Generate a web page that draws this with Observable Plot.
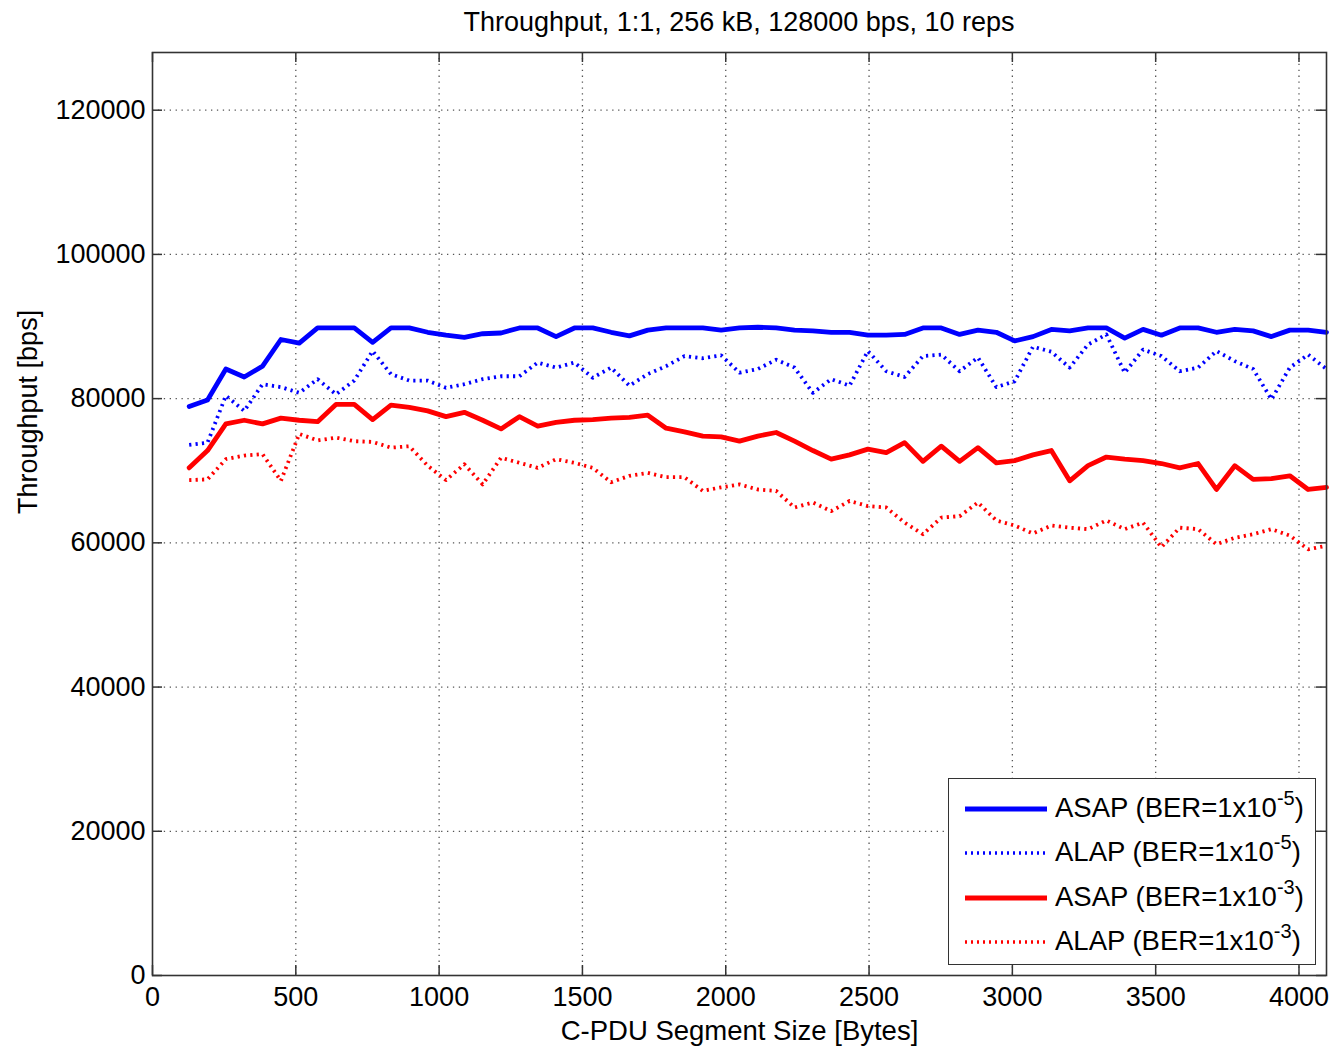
<!DOCTYPE html>
<html>
<head>
<meta charset="utf-8">
<script src="https://cdn.jsdelivr.net/npm/d3@7"></script>
<script src="https://cdn.jsdelivr.net/npm/@observablehq/plot@0.6"></script>
<style>
  html, body { margin: 0; padding: 0; background: #fff; }
  #wrap { position: relative; width: 1330px; height: 1048px; font-family: "Liberation Sans", Arial, sans-serif; }
  #title { height: 44px; line-height: 44px; padding-left: 152px; width: 1174px; text-align: center; font-size: 27px; color: #000; }
  #legend { position: absolute; left: 948px; top: 778px; width: 366px; height: 185px; border: 1.5px solid #333; background: #fff; }
  .row { position: absolute; left: 0; height: 44px; width: 366px; }
  .row svg { position: absolute; left: 16px; top: 0; }
  .row span { position: absolute; left: 106px; top: 6px; font-size: 27.5px; line-height: 30px; white-space: nowrap; color: #000; }
  .row sup { font-size: 20px; position: relative; top: -2px; vertical-align: super; line-height: 0; }
</style>
</head>
<body>
<div id="wrap">
  <div id="title">Throughput, 1:1, 256 kB, 128000 bps, 10 reps</div>
  <div id="chart"></div>
  <div id="legend"></div>
</div>
<script>
const sizes = [128,192,256,320,384,448,512,576,640,704,768,832,896,960,1024,1088,1152,1216,1280,1344,1408,1472,1536,1600,1664,1728,1792,1856,1920,1984,2048,2112,2176,2240,2304,2368,2432,2496,2560,2624,2688,2752,2816,2880,2944,3008,3072,3136,3200,3264,3328,3392,3456,3520,3584,3648,3712,3776,3840,3904,3968,4032,4096];

const asap5 = [78900,79800,84100,83000,84500,88200,87700,89800,89800,89800,87800,89800,89800,89200,88800,88500,89000,89100,89800,89800,88600,89800,89800,89200,88700,89500,89800,89800,89800,89500,89800,89900,89800,89500,89400,89200,89200,88800,88800,88900,89800,89800,88900,89500,89200,88000,88600,89600,89400,89800,89800,88400,89600,88800,89800,89800,89200,89600,89400,88600,89500,89500,89200];

const alap5 = [73600,73900,80400,78300,82000,81600,80800,82700,80600,82500,86600,83400,82500,82500,81500,82000,82700,83100,83100,85000,84300,85000,82900,84300,81800,83400,84500,85900,85600,86000,83600,84100,85400,84300,80800,82700,81800,86600,83800,83000,85900,86100,83800,85700,81600,82400,87200,86500,84300,87500,88900,83600,86800,85900,83800,84300,86600,85200,84100,79900,84300,86100,84100];

const asap3 = [70400,72800,76500,77000,76500,77300,77000,76800,79200,79200,77100,79100,78800,78300,77500,78100,77000,75800,77500,76200,76700,77000,77100,77300,77400,77700,75900,75400,74800,74700,74100,74800,75300,74100,72800,71600,72200,73000,72500,73900,71300,73400,71300,73200,71100,71400,72200,72800,68600,70700,71900,71600,71400,71000,70400,71000,67400,70700,68800,68900,69300,67400,67700];

const alap3 = [68700,68800,71600,72100,72300,68600,75100,74200,74600,74100,74000,73200,73400,70700,68700,70900,68100,71800,71100,70400,71600,71100,70400,68400,69300,69700,69100,69100,67200,67700,68100,67400,67200,64900,65600,64400,65800,65100,64900,62800,61200,63500,63700,65600,63100,62400,61300,62400,62100,61900,63100,61900,62800,59400,62100,61900,59800,60700,61200,61900,61000,59100,59600];

const xTicks = [0,500,1000,1500,2000,2500,3000,3500,4000];
const yTicks = [0,20000,40000,60000,80000,100000,120000];
const xGrid = [500,1000,1500,2000,2500,3000,3500,4000];
const yGrid = [20000,40000,60000,80000,100000,120000];

const seriesNames = ["ASAP (BER=1x10", "ALAP (BER=1x10", "ASAP (BER=1x10", "ALAP (BER=1x10"];
const seriesExp = ["-5", "-5", "-3", "-3"];
const seriesColors = ["#0000ff", "#0000ff", "#ff0000", "#ff0000"];
const seriesDotted = [false, true, false, true];
const seriesValues = [asap5, alap5, asap3, alap3];

const W = 1330, H = 1004, mT = 8, mB = 73, mL = 152, mR = 4;
const innerH = H - mT - mB, innerW = W - mL - mR;
const tickLen = 10;

const gridStyle = {stroke: "#555", strokeOpacity: 1, strokeWidth: 1.3, strokeDasharray: "1.3,4.6"};
const tickStyle = {stroke: "#333", strokeWidth: 1.5};

const lineMarks = seriesValues.map((vals, i) => Plot.line(vals, {
  x: sizes, y: vals,
  stroke: seriesColors[i],
  strokeWidth: seriesDotted[i] ? 3.8 : 4.8,
  strokeDasharray: seriesDotted[i] ? "2.2,4.2" : null,
  strokeLinejoin: "round",
  strokeLinecap: seriesDotted[i] ? "butt" : "round"
}));

const chart = Plot.plot({
  width: W, height: H,
  marginTop: mT, marginBottom: mB, marginLeft: mL, marginRight: mR,
  x: {domain: [0, 4096]},
  y: {domain: [0, 128000]},
  style: {fontFamily: "'Liberation Sans', Arial, sans-serif", fontSize: "27px", color: "#000", background: "#fff", overflow: "visible"},
  marks: [
    Plot.gridX(xGrid, gridStyle),
    Plot.gridY(yGrid, gridStyle),
    Plot.tickX(xTicks, {x: d => d, insetTop: innerH - tickLen, ...tickStyle}),
    Plot.tickX(xTicks, {x: d => d, insetBottom: innerH - tickLen, ...tickStyle}),
    Plot.tickY(yTicks, {y: d => d, insetRight: innerW - tickLen, ...tickStyle}),
    Plot.tickY(yTicks, {y: d => d, insetLeft: innerW - tickLen, ...tickStyle}),
    ...lineMarks,
    Plot.frame({stroke: "#333", strokeWidth: 1.6}),
    Plot.axisX(xTicks, {tickSize: 0, tickPadding: 11, tickFormat: d => String(d), label: null, fontSize: 27}),
    Plot.axisY(yTicks, {tickSize: 0, tickPadding: 7, tickFormat: d => String(d), label: null, fontSize: 27}),
    Plot.text(["Throughput [bps]"], {frameAnchor: "left", rotate: -90, dx: -124, lineAnchor: "middle", fontSize: 27}),
    Plot.text(["C-PDU Segment Size [Bytes]"], {frameAnchor: "bottom", dy: 56, lineAnchor: "middle", fontSize: 27.5})
  ]
});
document.getElementById("chart").appendChild(chart);

// legend
const legend = document.getElementById("legend");
const rowTops = [8, 52, 97, 141];
seriesNames.forEach((name, i) => {
  const row = document.createElement("div");
  row.className = "row";
  row.style.top = rowTops[i] + "px";
  const svgNS = "http://www.w3.org/2000/svg";
  const svg = document.createElementNS(svgNS, "svg");
  svg.setAttribute("width", "84");
  svg.setAttribute("height", "44");
  const ln = document.createElementNS(svgNS, "line");
  ln.setAttribute("x1", "0"); ln.setAttribute("x2", "82");
  ln.setAttribute("y1", "22"); ln.setAttribute("y2", "22");
  ln.setAttribute("stroke", seriesColors[i]);
  ln.setAttribute("stroke-width", seriesDotted[i] ? "3.6" : "4.8");
  if (seriesDotted[i]) ln.setAttribute("stroke-dasharray", "2,4");
  svg.appendChild(ln);
  row.appendChild(svg);
  const span = document.createElement("span");
  span.innerHTML = name + "<sup>" + seriesExp[i] + "</sup>)";
  row.appendChild(span);
  legend.appendChild(row);
});
</script>
</body>
</html>
